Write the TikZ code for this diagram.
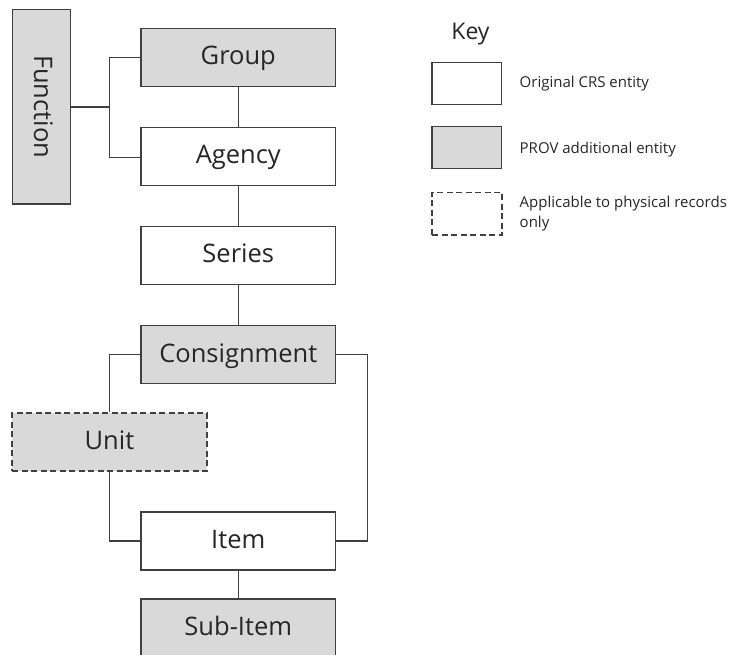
\documentclass[tikz,border=0pt]{standalone}
\usepackage{fontspec}
\setmainfont{Open Sans}
\definecolor{edge}{HTML}{404040}
\definecolor{shade}{HTML}{D9D9D9}
\definecolor{ink}{HTML}{262626}
\tikzset{
  labelfont/.style={font=\fontsize{25.5}{30}\selectfont, text height=18.4pt, text depth=3.6pt},
  entity/.style={draw=edge, line width=1.3pt, fill=white, text=ink,
    minimum width=194.7pt, minimum height=58pt, inner sep=0pt, labelfont},
  provent/.style={entity, fill=shade},
  physical/.style={dash pattern=on 6pt off 3.5pt, line width=1.6pt},
  keybox/.style={draw=edge, line width=1.3pt, fill=white,
    minimum width=69.7pt, minimum height=42pt, inner sep=0pt},
  keytext/.style={anchor=west, text=ink, font=\fontsize{15}{20}\selectfont,
    align=left, inner sep=0pt},
  link/.style={draw=edge, line width=1.3pt}
}
\begin{document}
\begin{tikzpicture}[x=1pt, y=-1pt]
  \useasboundingbox (0,0) rectangle (734,655);
  \clip (0,0) rectangle (734,655);

  % entity boxes
  \node[provent, minimum width=57.6pt, minimum height=194.7pt] (function) at (41.5,106.7) {};
  \node[rotate=-90, text=ink, inner sep=0pt, labelfont] (functext) at (function) {Function};
  \node[provent] (group) at (238.3,57.3) {Group};
  \node[entity] (agency) at (238.3,156.3) {Agency};
  \node[entity] (series) at (238.3,255.5) {Series};
  \node[provent] (consignment) at (238.3,354.8) {Consignment};
  \node[provent, physical] (unit) at (109.5,442) {Unit};
  \node[entity] (item) at (238.3,541) {Item};
  \node[provent] (subitem) at (238.3,628) {Sub-Item};

  % junction columns
  \coordinate (fj) at (109.3,0);
  \coordinate (rj) at (367.3,0);

  % connectors
  \draw[link] (function.east |- 0,107) -- (fj |- 0,107);
  \draw[link] (group.west |- 0,57.3) -- (fj |- 0,57.3) -- (fj |- 0,157.7) -- (agency.west |- 0,157.7);
  \draw[link] (group.south) -- (agency.north);
  \draw[link] (agency.south) -- (series.north);
  \draw[link] (series.south) -- (consignment.north);
  \draw[link] (consignment.west) -| (unit.north);
  \draw[link] (unit.south) |- (item.west);
  \draw[link] (consignment.east) -- (consignment.east -| rj) -- (item.east -| rj) -- (item.east);
  \draw[link] (item.south) -- (subitem.north);

  % key
  \node[text=ink, font=\fontsize{23}{28}\selectfont, anchor=base, inner sep=0pt] (keytitle) at (470.5,40) {Key};
  \node[keybox] (k1) at (466.9,83.3) {};
  \node[keybox, fill=shade] (k2) at (466.9,147.2) {};
  \node[keybox, physical, minimum height=42.7pt] (k3) at (466.9,213.7) {};
  \node[keytext] (k1t) at (519.5,83.3) {Original CRS entity};
  \node[keytext] (k2t) at (519.5,150) {PROV additional entity};
  \node[keytext] (k3t) at (519.5,213.7) {Applicable to physical records\\only};
\end{tikzpicture}
\end{document}
